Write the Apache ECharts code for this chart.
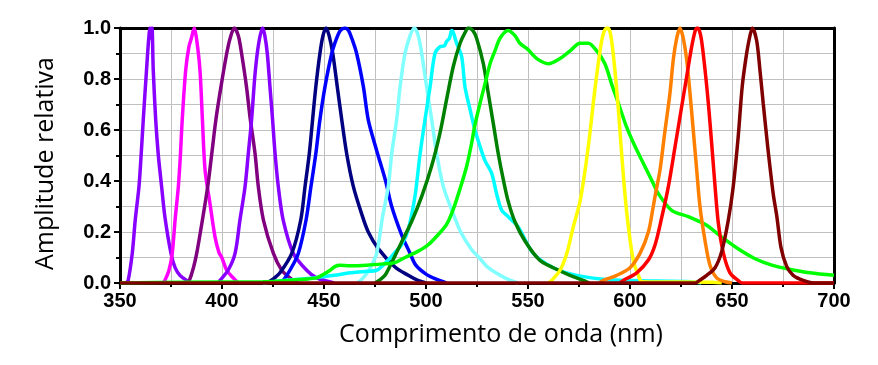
<!DOCTYPE html>
<html>
<head>
<meta charset="utf-8">
<script src="https://cdn.jsdelivr.net/npm/echarts@6/dist/echarts.min.js"></script>
<style>
html,body{margin:0;padding:0;background:#fff;}
#chart{width:878px;height:365px;}
</style>
</head>
<body>
<div id="chart"></div>
<script>
// Wavelength axis ticks / labels
var xTicks = [350, 400, 450, 500, 550, 600, 650, 700];
var yTicks = [0.0, 0.2, 0.4, 0.6, 0.8, 1.0];
var xTitle = 'Comprimento de onda (nm)';
var yTitle = 'Amplitude relativa';

// Spectra: [wavelength nm, relative amplitude]
var violet365 = [[353,0],[354,0.01],[356,0.116],[357.5,0.25],[359.3,0.378],[360.5,0.52],[361.4,0.64],[363,0.835],[364,0.95],[364.7,1.0],[365.3,0.96],[365.7,1.0],[366.3,0.835],[367.5,0.64],[368.8,0.5],[370.4,0.378],[372,0.26],[375,0.116],[377,0.06],[379.4,0.03],[382.7,0.01],[385,0]];
var magenta386 = [[371,0],[372,0.01],[374,0.05],[375.6,0.116],[377,0.247],[378.6,0.378],[379.6,0.5],[380.5,0.64],[382.2,0.835],[383.8,0.927],[385,0.96],[386.4,1.0],[387.6,0.953],[389.2,0.835],[390.4,0.64],[391.7,0.443],[394.1,0.312],[396.6,0.18],[398.5,0.12],[399.9,0.10],[402.3,0.05],[405.5,0.02],[408,0]];
var purple406 = [[383,0],[384,0.01],[386,0.06],[387.6,0.116],[390.4,0.247],[393,0.378],[395,0.508],[397,0.64],[399.5,0.77],[402.3,0.90],[404,0.96],[406,1.0],[408,0.97],[409.6,0.90],[412,0.77],[413.7,0.652],[416.2,0.508],[417.8,0.378],[420.3,0.247],[425.2,0.116],[429.3,0.05],[433.3,0.02],[437,0]];
var violet420 = [[398,0],[399,0.01],[403,0.05],[406.4,0.116],[408.8,0.247],[411.3,0.378],[412.9,0.508],[414.5,0.64],[416.2,0.82],[418,0.94],[419.9,1.0],[421,0.97],[422.2,0.90],[423.5,0.77],[424.8,0.64],[426,0.508],[427.6,0.378],[430,0.247],[435,0.116],[441.5,0.05],[446.4,0.02],[455,0]];
var navy451 = [[422,0],[425,0.015],[428.4,0.04],[434.2,0.116],[438.6,0.247],[440.7,0.378],[442.8,0.508],[444.4,0.64],[446,0.77],[448,0.90],[449.5,0.97],[451,1.0],[452.5,0.97],[454.3,0.90],[456.5,0.77],[458.7,0.64],[461.1,0.508],[464.4,0.378],[468.5,0.27],[471.7,0.2],[476.6,0.135],[484.8,0.063],[491.3,0.03],[496,0.01],[500,0]];
var blue461 = [[428,0],[430,0.01],[433.3,0.05],[437.4,0.116],[441.2,0.247],[443.6,0.378],[446,0.508],[448,0.64],[450.5,0.77],[453.8,0.90],[456.2,0.96],[458,0.99],[460.3,1.0],[462,0.99],[463.6,0.96],[466,0.90],[469.3,0.77],[471.7,0.64],[475.8,0.52],[480.2,0.4],[483.2,0.3],[488,0.19],[492,0.12],[495,0.07],[500,0.035],[505,0.015],[510,0]];
var lightcyan494 = [[466,0],[468,0.01],[472,0.05],[475.8,0.116],[478.5,0.25],[481.5,0.378],[483.2,0.508],[485.6,0.64],[487.3,0.77],[489.7,0.9],[492.2,0.97],[494.3,1.0],[496.2,0.97],[497.9,0.9],[500.3,0.77],[502.8,0.64],[505.2,0.508],[508.5,0.378],[513.4,0.27],[517,0.2],[522.4,0.13],[526,0.1],[530.5,0.06],[538.7,0.02],[545,0]];
var cyan513 = [[420,0],[430,0.01],[445,0.02],[455,0.03],[462.7,0.04],[470,0.045],[475.8,0.05],[479,0.07],[481.5,0.09],[484.8,0.12],[488,0.15],[491.3,0.21],[494.6,0.34],[497,0.5],[499.5,0.64],[502,0.77],[504.4,0.9],[506.9,0.927],[509,0.93],[510.1,0.947],[511.5,0.96],[512.6,0.99],[513.5,0.98],[515,0.94],[517.5,0.887],[519.1,0.77],[521.6,0.68],[524,0.6],[526.5,0.535],[528.9,0.48],[532.2,0.43],[534.6,0.35],[537.1,0.285],[540.3,0.26],[545.2,0.22],[552.6,0.116],[562.4,0.06],[573.9,0.03],[586.8,0.015],[600,0.01],[630,0.005],[635,0]];
var green522 = [[475,0],[477,0.01],[479.9,0.03],[483.2,0.08],[488,0.16],[492.9,0.24],[497.9,0.34],[502.8,0.46],[506.9,0.59],[510.1,0.72],[513.4,0.85],[516.7,0.94],[519,0.98],[520.8,1.0],[523,0.99],[524.8,0.96],[528.1,0.86],[530.5,0.745],[533,0.625],[535.4,0.508],[537.9,0.405],[540.3,0.32],[543.6,0.24],[548.5,0.165],[555.9,0.088],[562.4,0.06],[570.6,0.03],[577.1,0.01],[580,0]];
var lime540 = [[350,0],[380,0.003],[420,0.005],[433,0.01],[440,0.015],[446.4,0.02],[450,0.035],[453,0.05],[455.5,0.065],[457.8,0.07],[462.7,0.068],[470.9,0.07],[479,0.075],[484.8,0.08],[489.7,0.1],[496.2,0.125],[501.1,0.15],[506,0.19],[510.1,0.23],[513.4,0.29],[516.7,0.37],[520,0.46],[522.4,0.55],[524,0.62],[526.5,0.705],[528.9,0.78],[531.4,0.86],[533.8,0.91],[536.3,0.96],[540.3,0.99],[543.6,0.97],[546,0.94],[549.4,0.92],[554.3,0.88],[560,0.86],[565.7,0.88],[570.6,0.91],[575.5,0.94],[579.6,0.94],[583.7,0.91],[587.7,0.86],[591,0.78],[594.3,0.705],[598.4,0.61],[602.5,0.535],[606.5,0.47],[611.4,0.39],[613.9,0.35],[620.4,0.285],[628.6,0.26],[636.8,0.23],[645,0.18],[653,0.134],[661.3,0.095],[669.5,0.07],[677.6,0.055],[688.2,0.04],[700,0.03]];
var yellow589 = [[560,0],[561.6,0.01],[565.7,0.05],[569,0.116],[572.2,0.22],[575.5,0.32],[578,0.443],[580.1,0.57],[582,0.705],[584,0.835],[586.1,0.95],[587.5,0.99],[588.9,1.0],[590,0.99],[591,0.95],[592.6,0.835],[594.3,0.68],[595.9,0.508],[597.5,0.35],[599.2,0.22],[601.6,0.09],[604.1,0.03],[606,0.005],[640,0.003],[645,0]];
var orange625 = [[585,0],[586.9,0.01],[593.5,0.03],[600,0.06],[604.9,0.116],[609,0.2],[611.4,0.3],[612.5,0.35],[614.7,0.443],[617.2,0.6],[619.6,0.745],[621.2,0.875],[622.9,0.96],[624.5,1.0],[626.1,0.96],[627.8,0.875],[629.4,0.745],[631,0.6],[632.7,0.443],[634.3,0.3],[636.8,0.165],[639.2,0.07],[642.5,0.02],[646.6,0.005],[650,0]];
var red633 = [[595,0],[596.7,0.01],[603.3,0.04],[609,0.09],[612.3,0.15],[615.5,0.255],[618.8,0.378],[622.1,0.535],[625.3,0.69],[627.8,0.81],[630.2,0.925],[632,0.99],[633,1.0],[634,0.99],[635.1,0.95],[636.8,0.835],[638.4,0.705],[640,0.55],[641.7,0.378],[643.3,0.235],[645.8,0.116],[649,0.04],[653,0.01],[655,0],[700,0]];
var maroon660 = [[350,0],[631.9,0],[634,0.01],[637.6,0.03],[641.7,0.06],[645,0.125],[648.2,0.247],[650.6,0.378],[653,0.57],[655,0.77],[656.7,0.875],[658.3,0.95],[660,1.0],[662.1,0.95],[663.7,0.835],[665.3,0.705],[667.5,0.535],[670.2,0.35],[672,0.26],[674,0.14],[676.8,0.065],[680,0.03],[684.9,0.01],[690,0],[700,0]];

var seriesData = [
  {d: violet365, c: '#8800ff'},
  {d: magenta386, c: '#ff00ff'},
  {d: purple406, c: '#800080'},
  {d: violet420, c: '#8800ff'},
  {d: navy451, c: '#000080'},
  {d: blue461, c: '#0000ff'},
  {d: lightcyan494, c: '#80ffff'},
  {d: cyan513, c: '#00ffff'},
  {d: green522, c: '#008000'},
  {d: lime540, c: '#00ff00'},
  {d: yellow589, c: '#ffff00'},
  {d: orange625, c: '#ff8000'},
  {d: red633, c: '#ff0000'},
  {d: maroon660, c: '#800000'}
];

var chart = echarts.init(document.getElementById('chart'), null, {renderer: 'canvas'});
var labelStyle = {fontFamily: 'Liberation Sans, Arial, sans-serif', fontWeight: 'bold', fontSize: 20, color: '#000'};
var gridLine = {show: true, lineStyle: {color: '#c0c0c0', width: 1}};
var frameAxisLine = {show: true, onZero: false, lineStyle: {color: '#000', width: 3}};
chart.setOption({
  animation: false,
  backgroundColor: '#fff',
  grid: {left: 120, right: 44, top: 28, bottom: 82},
  xAxis: [{
    type: 'value', min: xTicks[0], max: xTicks[xTicks.length - 1], interval: 50,
    name: xTitle, nameLocation: 'middle', nameGap: 39,
    nameTextStyle: {fontFamily: 'Open Sans, Noto Sans, sans-serif', fontSize: 25, color: '#000', padding: [0, 0, 0, 48]},
    axisLine: frameAxisLine,
    axisTick: {show: true, length: 6, lineStyle: {color: '#000', width: 2}},
    minorTick: {show: true, splitNumber: 2, length: 4, lineStyle: {color: '#000', width: 2}},
    splitLine: gridLine, minorSplitLine: gridLine,
    axisLabel: Object.assign({margin: 8}, labelStyle)
  }, {
    type: 'value', position: 'top', min: xTicks[0], max: xTicks[xTicks.length - 1], interval: 50,
    axisLine: frameAxisLine, axisTick: {show: false}, axisLabel: {show: false}, splitLine: {show: false}
  }],
  yAxis: [{
    type: 'value', min: yTicks[0], max: yTicks[yTicks.length - 1], interval: 0.2,
    name: yTitle, nameLocation: 'middle', nameGap: 62,
    nameTextStyle: {fontFamily: 'Open Sans, Noto Sans, sans-serif', fontSize: 25, color: '#000', padding: [0, 16, 0, 0]},
    axisLine: frameAxisLine,
    axisTick: {show: true, length: 6, lineStyle: {color: '#000', width: 2}},
    minorTick: {show: true, splitNumber: 2, length: 4, lineStyle: {color: '#000', width: 2}},
    splitLine: gridLine, minorSplitLine: gridLine,
    axisLabel: Object.assign({margin: 9, formatter: function (v) { return v.toFixed(1); }}, labelStyle)
  }, {
    type: 'value', position: 'right', min: yTicks[0], max: yTicks[yTicks.length - 1], interval: 0.2,
    axisLine: frameAxisLine, axisTick: {show: false}, axisLabel: {show: false}, splitLine: {show: false}
  }],
  series: seriesData.map(function (s) {
    return {type: 'line', data: s.d, showSymbol: false, smooth: 0.3, clip: true,
      lineStyle: {color: s.c, width: 3.5}, itemStyle: {color: s.c}};
  })
});
</script>
</body>
</html>
